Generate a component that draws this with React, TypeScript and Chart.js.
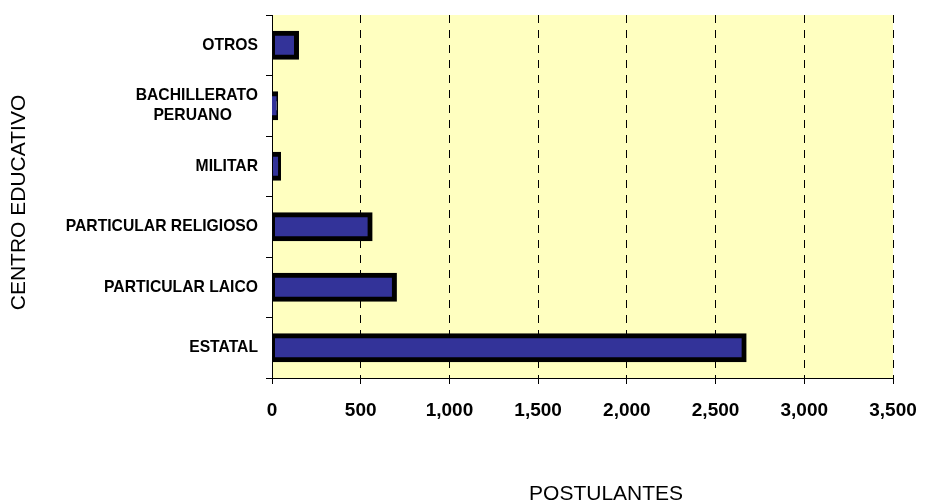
import React, { useEffect, useRef } from "react";
import { Chart, registerables } from "chart.js";

Chart.register(...registerables);

const categories: (string | string[])[] = [
  "OTROS",
  ["BACHILLERATO", "PERUANO      "],
  "MILITAR",
  "PARTICULAR RELIGIOSO",
  "PARTICULAR LAICO",
  "ESTATAL",
];
const postulantes: number[] = [138, 20, 37, 553, 690, 2661];
const xTicksMin = 0;
const xTicksMax = 3500;
const xTickStep = 500;
const xTitle = "POSTULANTES";
const yTitle = "CENTRO EDUCATIVO";

const FONT = "'Liberation Sans', Arial, sans-serif";

const bgPlugin = {
  id: "plotBg",
  beforeDraw(chart: any) {
    const { ctx, chartArea } = chart;
    if (!chartArea) return;
    ctx.save();
    ctx.fillStyle = "#FFFFC0";
    ctx.fillRect(chartArea.left, chartArea.top, chartArea.right - chartArea.left, chartArea.bottom - chartArea.top);
    ctx.restore();
  },
};

const titlesPlugin = {
  id: "axisTitles",
  afterDraw(chart: any) {
    const { ctx, chartArea } = chart;
    ctx.save();
    ctx.fillStyle = "#000";
    ctx.font = `21px ${FONT}`;
    ctx.textAlign = "center";
    ctx.textBaseline = "middle";
    const xc = chartArea.left + (chartArea.right - chartArea.left) * 0.538;
    ctx.fillText(xTitle, xc, 494);
    const yc = (chartArea.top + chartArea.bottom) / 2 + 6;
    ctx.translate(19, yc);
    ctx.rotate(-Math.PI / 2);
    ctx.fillText(yTitle, 0, 0);
    ctx.restore();
  },
};

export default function App() {
  const ref = useRef<HTMLCanvasElement>(null);
  useEffect(() => {
    if (!ref.current) return;
    const chart = new Chart(ref.current, {
      type: "bar",
      data: {
        labels: categories,
        datasets: [
          {
            data: postulantes,
            backgroundColor: "#333399",
            borderColor: "#000000",
            borderWidth: 5,
            borderSkipped: false,
            inflateAmount: 2.5,
            barPercentage: 0.397,
            categoryPercentage: 1,
          } as any,
        ],
      },
      options: {
        indexAxis: "y",
        animation: false,
        responsive: false,
        layout: { autoPadding: false, padding: { top: 15, right: 32, left: 0, bottom: 0 } },
        plugins: {
          legend: { display: false },
          tooltip: { enabled: false },
          title: { display: false },
        },
        scales: {
          x: {
            min: xTicksMin,
            max: xTicksMax,
            afterFit(scale: any) {
              scale.height = 126;
              scale.paddingLeft = 0;
              scale.paddingRight = 0;
            },
            ticks: {
              stepSize: xTickStep,
              color: "#000",
              font: { family: FONT, size: 19, weight: "bold" },
              padding: 15,
              maxRotation: 0,
              callback: (v: any) => Number(v).toLocaleString("en-US"),
            },
            grid: {
              color: "#000",
              lineWidth: 1,
              drawOnChartArea: true,
              drawTicks: true,
              tickLength: 6,
              tickColor: "#000",
              tickBorderDash: [],
            },
            border: { display: true, color: "#000", width: 1, dash: [8, 7] },
          },
          y: {
            afterFit(scale: any) {
              scale.width = 272;
              scale.paddingTop = 0;
              scale.paddingBottom = 0;
            },
            ticks: {
              color: "#000",
              font: { family: FONT, size: 15.7, weight: "bold", lineHeight: 1.3 },
              padding: 8,
            },
            grid: {
              drawOnChartArea: false,
              drawTicks: true,
              tickLength: 6,
              color: "#000",
              offset: true,
            },
            border: { display: true, color: "#000", width: 1 },
          },
        },
      } as any,
      plugins: [bgPlugin, titlesPlugin],
    });
    return () => chart.destroy();
  }, []);
  return (
    <div style={{ position: "absolute", left: 0, top: 0, width: 925, height: 504, background: "#fff" }}>
      <canvas ref={ref} width={925} height={504} style={{ display: "block", width: 925, height: 504 }} />
    </div>
  );
}
